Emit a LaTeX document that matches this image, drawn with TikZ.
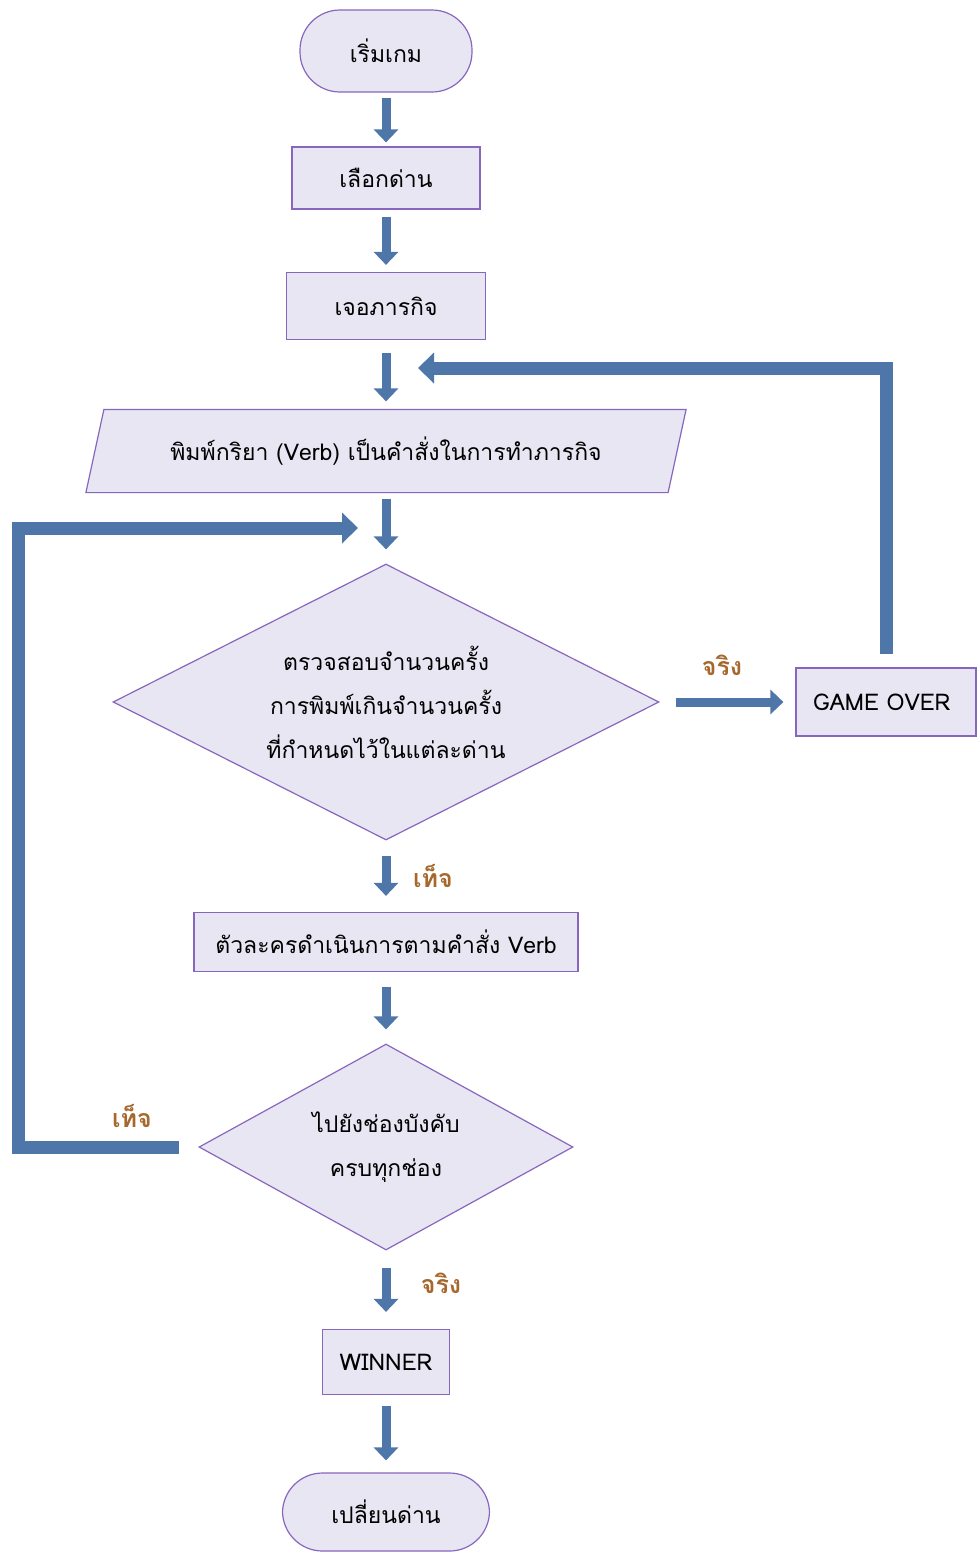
\documentclass[tikz,border=0pt]{standalone}
\usepackage{fontspec}
\setmainfont[Script=Thai]{Loma}
\usetikzlibrary{shapes.geometric,arrows.meta,backgrounds}

\definecolor{boxfill}{RGB}{232,230,243}
\definecolor{boxline}{RGB}{137,102,190}
\definecolor{flowblue}{RGB}{79,118,168}
\definecolor{answer}{RGB}{166,104,44}

\tikzset{
  base/.style={draw=boxline, fill=boxfill, line width=1.2pt, inner sep=0pt,
    font=\fontsize{23}{26}\selectfont, align=center},
  terminal/.style={base, rectangle, rounded corners=40pt},
  process/.style={base, rectangle},
  inputbox/.style={base, rectangle, draw=none, fill=none},
  slantedge/.style={draw=boxline, fill=boxfill, line width=1.2pt},
  decision/.style={base, diamond, aspect=2, font=\fontsize{23}{44}\selectfont},
  flow/.style={draw=flowblue, line width=9pt, -{Triangle[width=24pt,length=13pt]}},
  loopback/.style={draw=flowblue, line width=13pt, -{Triangle[width=30pt,length=16pt]}},
  answer/.style={text=answer, font=\fontsize{25}{28}\selectfont\bfseries}
}

\begin{document}
\begin{tikzpicture}[x=1pt, y=-1pt]
\useasboundingbox (0,0) rectangle (977,1553);

\node[terminal, minimum width=172pt, minimum height=82pt] (start) at (386,51) {เริ่มเกม};
\node[process, minimum width=188pt, minimum height=62pt] (stage) at (386,178) {เลือกด่าน};
\node[process, minimum width=199pt, minimum height=67pt] (task) at (386,306) {เจอภารกิจ};
\node[inputbox, minimum width=581pt, minimum height=82pt] (verb) at (386,451)
  {พิมพ์กริยา (Verb) เป็นคำสั่งในการทำภารกิจ};
\begin{pgfonlayer}{background}
\path[slantedge] ([xshift=-9pt]verb.south west) -- ([xshift=9pt]verb.north west)
  -- ([xshift=9pt]verb.north east) -- ([xshift=-9pt]verb.south east) -- cycle;
\end{pgfonlayer}
\node[decision, minimum width=546pt, minimum height=276pt] (count) at (386,702)
  {ตรวจสอบจำนวนครั้ง\\การพิมพ์เกินจำนวนครั้ง\\ที่กำหนดไว้ในแต่ละด่าน};
\node[process, minimum width=180pt, minimum height=68pt, text width=146pt, align=left] (over) at (886,702) {GAME OVER};
\node[process, minimum width=384pt, minimum height=59pt] (act) at (386,942)
  {ตัวละครดำเนินการตามคำสั่ง Verb};
\node[decision, minimum width=374pt, minimum height=206pt] (route) at (386,1147)
  {ไปยังช่องบังคับ\\ครบทุกช่อง};
\node[process, minimum width=127pt, minimum height=65pt] (win) at (386,1362) {WINNER};
\node[terminal, minimum width=207pt, minimum height=78pt] (stop) at (386,1512) {เปลี่ยนด่าน};

\node[answer] (yes1) at (722,665) {จริง};
\node[answer] (no1) at (433,876) {เท็จ};
\node[answer] (no2) at (132,1116) {เท็จ};
\node[answer] (yes2) at (441,1283) {จริง};

\coordinate (topin) at (418,368);
\coordinate (leftbend) at (18,1147);
\coordinate (leftin) at (358,528);

\draw[flow, shorten <=5pt, shorten >=4pt] (start) -- (stage);
\draw[flow, shorten <=7pt, shorten >=7pt] (stage) -- (task);
\draw[flow, shorten <=13pt, shorten >=8pt] (task) -- (verb);
\draw[flow, shorten <=6pt, shorten >=14pt] (verb) -- (count);
\draw[flow, shorten <=16pt, shorten >=12pt] (count.east) -- (over.west);
\draw[flow, shorten <=15pt, shorten >=16pt] (count) -- (act);
\draw[flow, shorten <=15pt, shorten >=14pt] (act) -- (route);
\draw[flow, shorten <=17pt, shorten >=17pt] (route) -- (win);
\draw[flow, shorten <=11pt, shorten >=12pt] (win) -- (stop);

\draw[loopback] ([yshift=13pt]over.north) |- (topin);
\draw[loopback] ([xshift=-19pt]route.west) -- (leftbend) |- (leftin);
\end{tikzpicture}
\end{document}
